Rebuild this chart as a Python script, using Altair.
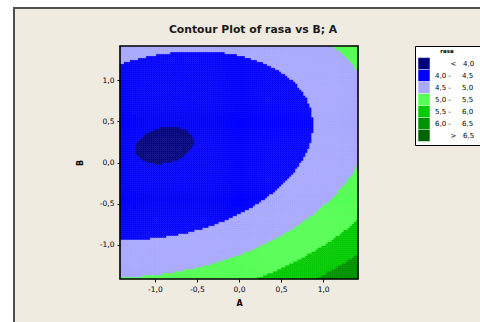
import numpy as np
import pandas as pd
import altair as alt

# Quadratic response surface for rasa in coded units A and B:
# rasa = b0 + bA*A + bB*B + bAA*A^2 + bBB*B^2 + bAB*A*B
TERMS = ["const", "A", "B", "A*A", "B*B", "A*B"]
COEFS = [4.157, 0.335, -0.282, 0.176, 0.420, -0.120]

# Contour breaks, legend labels and fill colours
LEVELS = [4.0, 4.5, 5.0, 5.5, 6.0, 6.5]
NB = "\u00a0"
ZW = "\u200b"  # keeps the padding spaces from being trimmed
BAND_LABELS = [
    ZW + NB * 7 + "<" + NB * 3 + "4,0" + NB + ZW,
    "4,0" + NB + "-" + NB * 5 + "4,5" + NB + ZW,
    "4,5" + NB + "-" + NB * 5 + "5,0" + NB + ZW,
    "5,0" + NB + "-" + NB * 5 + "5,5" + NB + ZW,
    "5,5" + NB + "-" + NB * 5 + "6,0" + NB + ZW,
    "6,0" + NB + "-" + NB * 5 + "6,5" + NB + ZW,
    ZW + NB * 7 + ">" + NB * 3 + "6,5" + NB + ZW,
]
BAND_COLORS = ["#00007F", "#0000FF", "#AAAAFF", "#55FF55", "#00CC00", "#009400", "#006400"]

AXIS_RANGE = [-1.414, 1.414]
TICKS = [-1.0, -0.5, 0.0, 0.5, 1.0]
TITLE = "Contour Plot of rasa vs B; A"

# Evaluate the surface on a fine grid of cells and classify each cell
N = 118
edges = np.linspace(AXIS_RANGE[0], AXIS_RANGE[1], N + 1)
mids = (edges[:-1] + edges[1:]) / 2
ga, gb = np.meshgrid(mids, mids)
b0, bA, bB, bAA, bBB, bAB = COEFS
z = b0 + bA * ga + bB * gb + bAA * ga**2 + bBB * gb**2 + bAB * ga * gb
band_idx = np.digitize(z, LEVELS)
ia, ib = np.meshgrid(np.arange(N), np.arange(N))
cells = pd.DataFrame({
    "a0": edges[ia.ravel()],
    "a1": edges[ia.ravel() + 1],
    "b0": edges[ib.ravel()],
    "b1": edges[ib.ravel() + 1],
    "band": [BAND_LABELS[i] for i in band_idx.ravel()],
})

W, H = 238, 233
FONT = "DejaVu Sans"
comma_fmt = "replace(replace(format(datum.value, '.1f'), '.', ','), '\u2212', '-')"
scale_a = alt.Scale(domain=AXIS_RANGE, nice=False, zero=False)
scale_b = alt.Scale(domain=AXIS_RANGE, nice=False, zero=False)
band_scale = alt.Scale(domain=BAND_LABELS, range=BAND_COLORS)

one = pd.DataFrame({"k": [0]})

# Beige panel; its dark outline shows only on the left and top sides,
# the other two sides lie outside the canvas
panel = alt.Chart(one).mark_rect(fill="#EFEBE1", stroke="#505050", strokeWidth=2).encode(
    x=alt.value(-106), x2=alt.value(420), y=alt.value(-38), y2=alt.value(340)
)

heat = alt.Chart(cells).mark_rect(strokeWidth=0.4).encode(
    x=alt.X("a0:Q", scale=scale_a, title="A",
            axis=alt.Axis(values=TICKS, labelExpr=comma_fmt, titlePadding=7, zindex=2)),
    x2="a1:Q",
    y=alt.Y("b0:Q", scale=scale_b, title="B",
            axis=alt.Axis(values=TICKS, labelExpr=comma_fmt, titlePadding=15, zindex=2)),
    y2="b1:Q",
    color=alt.Color("band:N", scale=band_scale, legend=alt.Legend(
        title="rasa", orient="none", legendX=295, legendY=0,
        titleFontSize=5.5, titleFont=FONT, titleAnchor="middle", titlePadding=3,
        titleColor="black",
        symbolType="square", symbolSize=132, symbolStrokeWidth=0, symbolOpacity=1,
        rowPadding=0, labelFontSize=7, labelFont=FONT, labelColor="black",
        labelOffset=5, padding=3, strokeColor="black", fillColor="white",
        labelLimit=300, zindex=2,
    )),
    stroke=alt.Stroke("band:N", scale=band_scale, legend=None),
)

frame = alt.Chart(one).mark_rect(fillOpacity=0, stroke="black", strokeWidth=1.6).encode(
    x=alt.value(0), x2=alt.value(W), y=alt.value(0), y2=alt.value(H)
)

title = alt.Chart(one).mark_text(
    font=FONT, fontSize=10.8, fontWeight="bold", color="#1a1a1a", baseline="middle"
).encode(x=alt.value(133), y=alt.value(-16), text=alt.value(TITLE))

chart = alt.layer(panel, heat, frame, title).properties(
    width=W, height=H,
    autosize=alt.AutoSizeParams(type="none"),
    padding={"left": 120, "top": 46, "right": 122, "bottom": 43},
).configure(background="white").configure_view(stroke=None).configure_axis(
    grid=False, domain=False,
    labelFont=FONT, labelFontSize=7.5, labelColor="black",
    tickColor="black", tickSize=3, tickWidth=1, labelPadding=3,
    titleFont=FONT, titleFontSize=8, titleFontWeight="bold", titleColor="black",
)

chart.save("out.html", embed_options={"renderer": "svg", "actions": False})
